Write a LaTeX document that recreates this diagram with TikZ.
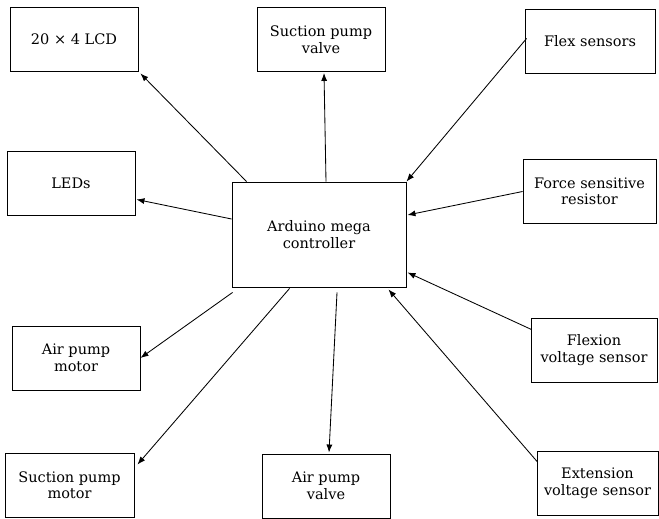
\documentclass[tikz,border=0pt]{standalone}
\usepackage{fontspec}
\setmainfont{DejaVu Serif}
\usetikzlibrary{arrows.meta}

\tikzset{
	blk/.style={draw, line width=0.9pt, align=center, inner sep=2pt, minimum width=128, minimum height=64, font=\fontsize{14.5}{16.5}\selectfont},
	link/.style={line width=0.85pt, -{Latex[length=8pt,width=6pt]}}
}

\begin{document}
\begin{tikzpicture}[x=1pt,y=-1pt]
	\useasboundingbox (0,0) rectangle (659,519);

	\node[blk] (lcd) at (74,39) {20 × 4 LCD};
	\node[blk] (spv) at (321,39.5) {Suction pump\\valve};
	\node[blk,minimum width=130] (flex) at (590,41.5) {Flex sensors};
	\node[blk] (leds) at (71,183) {LEDs};
	\node[blk,minimum width=174,minimum height=105] (ard) at (319,234.5) {Arduino mega\\controller};
	\node[blk,minimum width=133] (fsr) at (589.5,191.5) {Force sensitive\\resistor};
	\node[blk] (apm) at (76,358) {Air pump\\motor};
	\node[blk,minimum width=126] (fvs) at (594,350) {Flexion\\voltage sensor};
	\node[blk,minimum width=129] (spm) at (69.5,485) {Suction pump\\motor};
	\node[blk] (apv) at (326,486) {Air pump\\valve};
	\node[blk,minimum width=121] (evs) at (597.5,483.5) {Extension\\voltage sensor};

	% outputs
	\draw[link] ([shift={(15,0)}]ard.north west) -- ([shift={(2,2)}]lcd.south east);
	\draw[link] ([shift={(7,0)}]ard.north) -- ([shift={(3,1)}]spv.south);
	\draw[link] ([shift={(0,-15.5)}]ard.west) -- ([shift={(1,-16)}]leds.south east);
	\draw[link] ([shift={(1,5)}]ard.south west) -- (apm.east);
	\draw[link] ([shift={(58,1)}]ard.south west) -- ([shift={(3,12)}]spm.north east);
	\draw[link] ([shift={(18,5)}]ard.south) -- ([shift={(3,-1)}]apv.north);

	% inputs
	\draw[link] ([shift={(2,-3)}]flex.west) -- (ard.north east);
	\draw[link] (fsr.west) -- ([shift={(1,-19.5)}]ard.east);
	\draw[link] ([shift={(1,12)}]fvs.north west) -- ([shift={(1,-15)}]ard.south east);
	\draw[link] ([shift={(1,11)}]evs.north west) -- ([shift={(-18,2)}]ard.south east);
\end{tikzpicture}
\end{document}
